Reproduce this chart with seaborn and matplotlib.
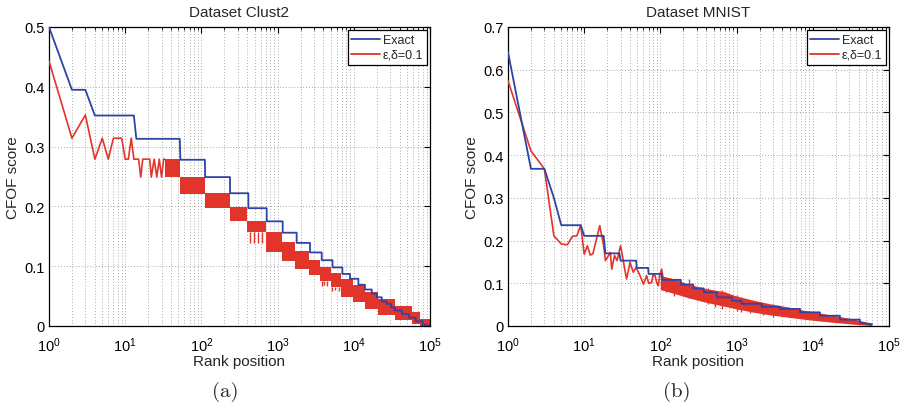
import numpy as np
import pandas as pd
import seaborn as sns
import matplotlib
matplotlib.use("Agg")
import matplotlib.pyplot as plt
from matplotlib.lines import Line2D
from matplotlib.ticker import LogLocator, NullFormatter, MultipleLocator, FormatStrFormatter

# ---- data ----
# (a) Dataset Clust2
clust_exact_rank = [1, 2, 3, 4, 13, 14, 52, 53, 111, 112, 237, 238, 413, 414, 719, 720,
                    1166, 1167, 1778, 1779, 2663, 2664, 3793, 3794, 5260, 5261, 7080, 7081,
                    8900, 8901, 11480, 11481, 14000, 14001, 17200, 17201, 20000, 20001,
                    23300, 23301, 27000, 27001, 30700, 30701, 34700, 34701, 43000, 43001,
                    53000, 53001, 65000, 65001, 80000, 80001, 100000]
clust_exact_score = [0.500, 0.395, 0.395, 0.352, 0.352, 0.313, 0.313, 0.278, 0.278, 0.249,
                     0.249, 0.222, 0.222, 0.197, 0.197, 0.175, 0.175, 0.156, 0.156, 0.139,
                     0.139, 0.123, 0.123, 0.110, 0.110, 0.098, 0.098, 0.087, 0.087, 0.079,
                     0.079, 0.069, 0.069, 0.061, 0.061, 0.054, 0.054, 0.048, 0.048, 0.041,
                     0.041, 0.037, 0.037, 0.031, 0.031, 0.026, 0.026, 0.020, 0.020, 0.014,
                     0.014, 0.008, 0.008, 0.003, 0.000]
clust_approx_rank = [1, 2, 3, 4, 5, 6, 7, 8, 9, 10, 11, 12, 13, 14, 15, 16, 17, 18, 19, 20,
                     21, 22, 24, 26, 28, 30, 32, 33]
clust_approx_score = [0.443, 0.314, 0.353, 0.279, 0.314, 0.279, 0.314, 0.314, 0.314, 0.279,
                      0.279, 0.314, 0.279, 0.279, 0.279, 0.249, 0.279, 0.279, 0.279, 0.279,
                      0.279, 0.249, 0.279, 0.249, 0.279, 0.249, 0.279, 0.279]
# dense oscillation of the estimate: band start rank, upper and lower extent
clust_band_rank = [33, 53, 111, 237, 400, 705, 1132, 1690, 2583, 3600, 4970, 6730, 9770,
                   14000, 20800, 34700, 57500, 75000, 100000]
clust_band_hi = [0.279, 0.249, 0.222, 0.199, 0.176, 0.157, 0.140, 0.126, 0.111, 0.098, 0.089,
                 0.079, 0.068, 0.057, 0.045, 0.034, 0.023, 0.012, 0.000]
clust_band_lo = [0.249, 0.221, 0.197, 0.175, 0.157, 0.123, 0.109, 0.095, 0.085, 0.075, 0.065,
                 0.048, 0.040, 0.028, 0.019, 0.010, 0.003, 0.000, 0.000]
clust_spike_rank = [440, 490, 560, 620, 3850, 4100, 4400, 5200, 5600, 6300]
clust_spike_top = [0.157, 0.157, 0.157, 0.157, 0.075, 0.075, 0.075, 0.065, 0.065, 0.065]
clust_spike_low = [0.138, 0.138, 0.139, 0.138, 0.067, 0.068, 0.067, 0.059, 0.060, 0.059]

# (b) Dataset MNIST
mnist_exact_rank = [1, 2, 3, 4, 5, 9, 10, 18, 19, 29, 30, 48, 49, 69, 70, 104, 105, 185, 186,
                    270, 271, 370, 371, 550, 551, 870, 871, 1160, 1161, 2130, 2131, 3700, 3701,
                    6800, 6801, 12400, 12401, 22700, 22701, 41500, 41501, 60000]
mnist_exact_score = [0.641, 0.368, 0.368, 0.300, 0.236, 0.236, 0.211, 0.211, 0.170, 0.170,
                     0.153, 0.153, 0.136, 0.136, 0.122, 0.122, 0.108, 0.108, 0.097, 0.097,
                     0.088, 0.088, 0.079, 0.079, 0.067, 0.067, 0.059, 0.059, 0.052, 0.052,
                     0.045, 0.045, 0.040, 0.040, 0.032, 0.032, 0.024, 0.024, 0.015, 0.015,
                     0.008, 0.004]
mnist_approx_rank = [1, 2, 3, 4, 5, 6, 7, 8, 9, 10, 11, 12, 13, 16, 18, 19, 22, 23, 25, 27,
                     30, 32, 34, 36, 40, 44, 48, 54, 60, 66, 70, 77, 80, 85, 90, 94, 98, 104,
                     110]
mnist_approx_score = [0.574, 0.410, 0.368, 0.211, 0.192, 0.190, 0.210, 0.211, 0.236, 0.168,
                      0.188, 0.166, 0.169, 0.235, 0.188, 0.153, 0.172, 0.133, 0.165, 0.153,
                      0.188, 0.161, 0.133, 0.110, 0.149, 0.126, 0.137, 0.118, 0.098, 0.118,
                      0.100, 0.102, 0.120, 0.118, 0.100, 0.094, 0.120, 0.133, 0.105]
mnist_band_rank = [100, 140, 181, 233, 385, 700, 1000, 1700, 2750, 5000, 7500, 12000, 20000,
                   35000, 59000]
mnist_band_hi = [0.118, 0.112, 0.105, 0.098, 0.088, 0.080, 0.070, 0.060, 0.052, 0.044, 0.037,
                 0.031, 0.024, 0.016, 0.006]
mnist_band_lo = [0.085, 0.078, 0.072, 0.066, 0.056, 0.046, 0.040, 0.032, 0.026, 0.020, 0.016,
                 0.012, 0.008, 0.004, 0.001]
mnist_spike_rank = [120, 150, 175, 235, 300, 420, 520, 650, 1000, 1150, 1500, 2200, 3000]
mnist_spike_top = [0.112, 0.105, 0.110, 0.110, 0.090, 0.088, 0.072, 0.085, 0.072, 0.068,
                   0.060, 0.055, 0.052]
mnist_spike_low = [0.080, 0.070, 0.076, 0.066, 0.060, 0.052, 0.044, 0.040, 0.036, 0.032,
                   0.030, 0.026, 0.022]

BLUE = "#2f43a6"
RED = "#e1352b"

sns.set_style("white")
plt.rcParams["font.family"] = ["Liberation Sans", "DejaVu Sans"]
plt.rcParams["mathtext.fontset"] = "custom"
plt.rcParams["mathtext.rm"] = "Liberation Sans"
plt.rcParams["mathtext.it"] = "Liberation Sans:italic"
plt.rcParams["mathtext.bf"] = "Liberation Sans:bold"

fig = plt.figure(figsize=(9.03, 4.10), dpi=100)
ax_a = fig.add_axes([49 / 903, 1 - 327 / 410, 381 / 903, 299 / 410])
ax_b = fig.add_axes([508 / 903, 1 - 327 / 410, 381 / 903, 299 / 410])


def style_axes(ax, ymax, title):
    ax.set_xscale("log")
    ax.set_xlim(1, 1e5)
    ax.set_ylim(0, ymax)
    ax.xaxis.set_major_locator(LogLocator(base=10, numticks=10))
    ax.xaxis.set_minor_locator(LogLocator(base=10, subs=np.arange(2, 10), numticks=100))
    ax.xaxis.set_minor_formatter(NullFormatter())
    ax.yaxis.set_major_locator(MultipleLocator(0.1))
    ax.yaxis.set_major_formatter(FormatStrFormatter("%g"))
    grid_kw = dict(color="#8c8c8c", linestyle=(0, (1, 2.5)), linewidth=0.6)
    ax.grid(True, which="major", axis="both", **grid_kw)
    ax.grid(True, which="minor", axis="x", **grid_kw)
    ax.tick_params(which="both", direction="in", top=True, right=True, colors="black",
                   labelsize=10.5)
    ax.tick_params(axis="y", pad=3)
    ax.tick_params(axis="x", pad=6.5)
    ax.tick_params(which="major", length=4, width=0.8)
    ax.tick_params(which="minor", length=2, width=0.6)
    for sp in ax.spines.values():
        sp.set_color("black")
        sp.set_linewidth(0.9)
    ax.set_title(title, fontsize=11, pad=8)
    handles = [Line2D([], [], color=BLUE, lw=1.3), Line2D([], [], color=RED, lw=1.3)]
    leg = ax.legend(handles, ["Exact", "ε,δ=0.1"], loc="upper right", fontsize=9,
                    frameon=True, fancybox=False, borderaxespad=0.25, handlelength=2.3,
                    handletextpad=0.2, borderpad=0.3, labelspacing=0.25)
    leg.get_frame().set_edgecolor("black")
    leg.get_frame().set_linewidth(0.9)
    leg.get_frame().set_alpha(1)


# panel (a)
style_axes(ax_a, 0.5, "Dataset Clust2")
ax_a.fill_between(clust_band_rank, clust_band_lo, clust_band_hi, step="post", color=RED, lw=0,
                  zorder=2)
ax_a.vlines(clust_spike_rank, clust_spike_low, clust_spike_top, color=RED, lw=1.0, zorder=2)
sns.lineplot(data=pd.DataFrame({"rank": clust_approx_rank, "score": clust_approx_score}),
             x="rank", y="score", ax=ax_a, color=RED, lw=1.2, estimator=None, sort=False,
             zorder=3)
sns.lineplot(data=pd.DataFrame({"rank": clust_exact_rank, "score": clust_exact_score}),
             x="rank", y="score", ax=ax_a, color=BLUE, lw=1.3, estimator=None, sort=False,
             zorder=4)

# panel (b)
style_axes(ax_b, 0.7, "Dataset MNIST")
ax_b.fill_between(mnist_band_rank, mnist_band_lo, mnist_band_hi, color=RED, lw=0, zorder=2)
ax_b.vlines(mnist_spike_rank, mnist_spike_low, mnist_spike_top, color=RED, lw=1.0, zorder=2)
sns.lineplot(data=pd.DataFrame({"rank": mnist_approx_rank, "score": mnist_approx_score}),
             x="rank", y="score", ax=ax_b, color=RED, lw=1.2, estimator=None, sort=False,
             zorder=3)
sns.lineplot(data=pd.DataFrame({"rank": mnist_exact_rank, "score": mnist_exact_score}),
             x="rank", y="score", ax=ax_b, color=BLUE, lw=1.3, estimator=None, sort=False,
             zorder=4)

for ax in (ax_a, ax_b):
    ax.set_xlabel("Rank position", fontsize=11, labelpad=0)
    ax.set_ylabel("CFOF score", fontsize=11, labelpad=3)

fig.text(225 / 903, 1 - 392 / 410, "(a)", fontfamily="cmr10", fontsize=15, ha="center",
         va="center")
fig.text(677 / 903, 1 - 392 / 410, "(b)", fontfamily="cmr10", fontsize=15, ha="center",
         va="center")

fig.savefig("out.png", dpi=100)
